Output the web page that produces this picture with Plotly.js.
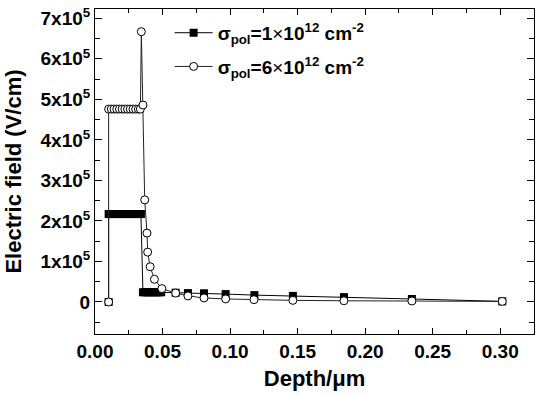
<!DOCTYPE html>
<html><head><meta charset="utf-8">
<script src="https://cdn.plot.ly/plotly-3.0.1.min.js"></script>
<style>html,body{margin:0;padding:0;background:#fff}#plot{width:541px;height:396px}</style>
</head><body><div id="plot"></div>
<script>
// Series 1: sigma_pol = 1e12 cm^-2 (filled squares)
const depth1 = [0.0101, 0.0101, 0.0121, 0.0141, 0.0161, 0.0181, 0.0201, 0.0221, 0.0241, 0.0261, 0.0281, 0.0301, 0.0321, 0.0340,
  0.0355, 0.0370, 0.0385, 0.0400, 0.0415, 0.0430, 0.0445, 0.0460, 0.0475, 0.0490,
  0.0597, 0.0688, 0.0807, 0.0967, 0.1180, 0.1465, 0.1843, 0.2346, 0.3015];
const field1 = [0, 217000, 217000, 217000, 217000, 217000, 217000, 217000, 217000, 217000, 217000, 217000, 217000, 217000,
  24000, 24000, 24000, 24000, 24000, 24000, 24000, 24000, 24000, 24000,
  23000, 22000, 21500, 19500, 17000, 15000, 12000, 7400, 1500];
// Series 2: sigma_pol = 6e12 cm^-2 (open circles)
const depth2 = [0.0101, 0.0101, 0.0121, 0.0141, 0.0161, 0.0181, 0.0201, 0.0221, 0.0241, 0.0261, 0.0281, 0.0301, 0.0321, 0.0336,
  0.0343, 0.0355, 0.0368, 0.0385, 0.0390, 0.0408, 0.0440, 0.0495, 0.0597, 0.0688, 0.0807, 0.0967, 0.1177, 0.1465, 0.1843, 0.2346, 0.3015];
const field2 = [0, 476000, 476000, 476000, 476000, 476000, 476000, 476000, 476000, 476000, 476000, 476000, 476000, 476000,
  667000, 486000, 252000, 170000, 123000, 87000, 56000, 33000, 22000, 15000, 10000, 7500, 5700, 4000, 3000, 2500, 1500];
const name1 = 'σ<sub>pol</sub>=1<span style="font-weight:normal">×</span>10<sup>12</sup> cm<sup>-2</sup>';
const name2 = 'σ<sub>pol</sub>=6<span style="font-weight:normal">×</span>10<sup>12</sup> cm<sup>-2</sup>';
const yTickVals = [0, 100000, 200000, 300000, 400000, 500000, 600000, 700000];
const yTickText = ['0', '1x10<sup>5</sup>', '2x10<sup>5</sup>', '3x10<sup>5</sup>', '4x10<sup>5</sup>', '5x10<sup>5</sup>', '6x10<sup>5</sup>', '7x10<sup>5</sup>'];
const xTickVals = [0, 0.05, 0.10, 0.15, 0.20, 0.25, 0.30];
const xTickText = ['0.00', '0.05', '0.10', '0.15', '0.20', '0.25', '0.30'];

const F = 'Liberation Sans, Arial, sans-serif';
const traces = [
  {x: depth1, y: field1, name: name1, mode: 'lines+markers', legendgroup: 'a',
   line: {color: '#000', width: 1}, marker: {symbol: 'square', size: 8, color: '#000'}},
  {x: depth2, y: field2, name: name2, mode: 'lines+markers', legendgroup: 'b',
   line: {color: '#222', width: 1}, marker: {symbol: 'circle', size: 8, color: '#fff', line: {color: '#000', width: 1}}}
];
const axisCommon = {showline: true, linecolor: '#000', linewidth: 1, mirror: 'ticks', ticks: 'inside',
  showgrid: false, zeroline: false, tickcolor: '#000', tickwidth: 1,
  tickfont: {family: F, size: 19, color: '#000', weight: 'bold'}};
const layout = {
  width: 541, height: 396,
  margin: {l: 95, r: 7, t: 9, b: 62},
  paper_bgcolor: '#fff', plot_bgcolor: '#fff',
  showlegend: true,
  legend: {x: 0.17, y: 0.985, xanchor: 'left', yanchor: 'top', bgcolor: 'rgba(0,0,0,0)',
    font: {family: F, size: 19, color: '#000', weight: 'bold'}, itemwidth: 38, tracegroupgap: 6},
  xaxis: Object.assign({}, axisCommon, {range: [0, 0.325], tickmode: 'array', tickvals: xTickVals, ticktext: xTickText,
    ticklen: 6, minor: {dtick: 0.025, tick0: 0, ticks: 'inside', ticklen: 4, tickcolor: '#000', showgrid: false},
    title: {text: 'Depth/μm', font: {family: F, size: 22, color: '#000', weight: 'bold'}, standoff: 9}}),
  yaxis: Object.assign({}, axisCommon, {range: [-79000, 723000], tickmode: 'array', tickvals: yTickVals, ticktext: yTickText,
    ticklen: 7, minor: {dtick: 50000, tick0: 0, ticks: 'inside', ticklen: 5, tickcolor: '#000', showgrid: false},
    title: {text: 'Electric field (V/cm)', font: {family: F, size: 22, color: '#000', weight: 'bold'}, standoff: 12}})
};
Plotly.newPlot('plot', traces, layout, {displayModeBar: false, staticPlot: true});
</script></body></html>
